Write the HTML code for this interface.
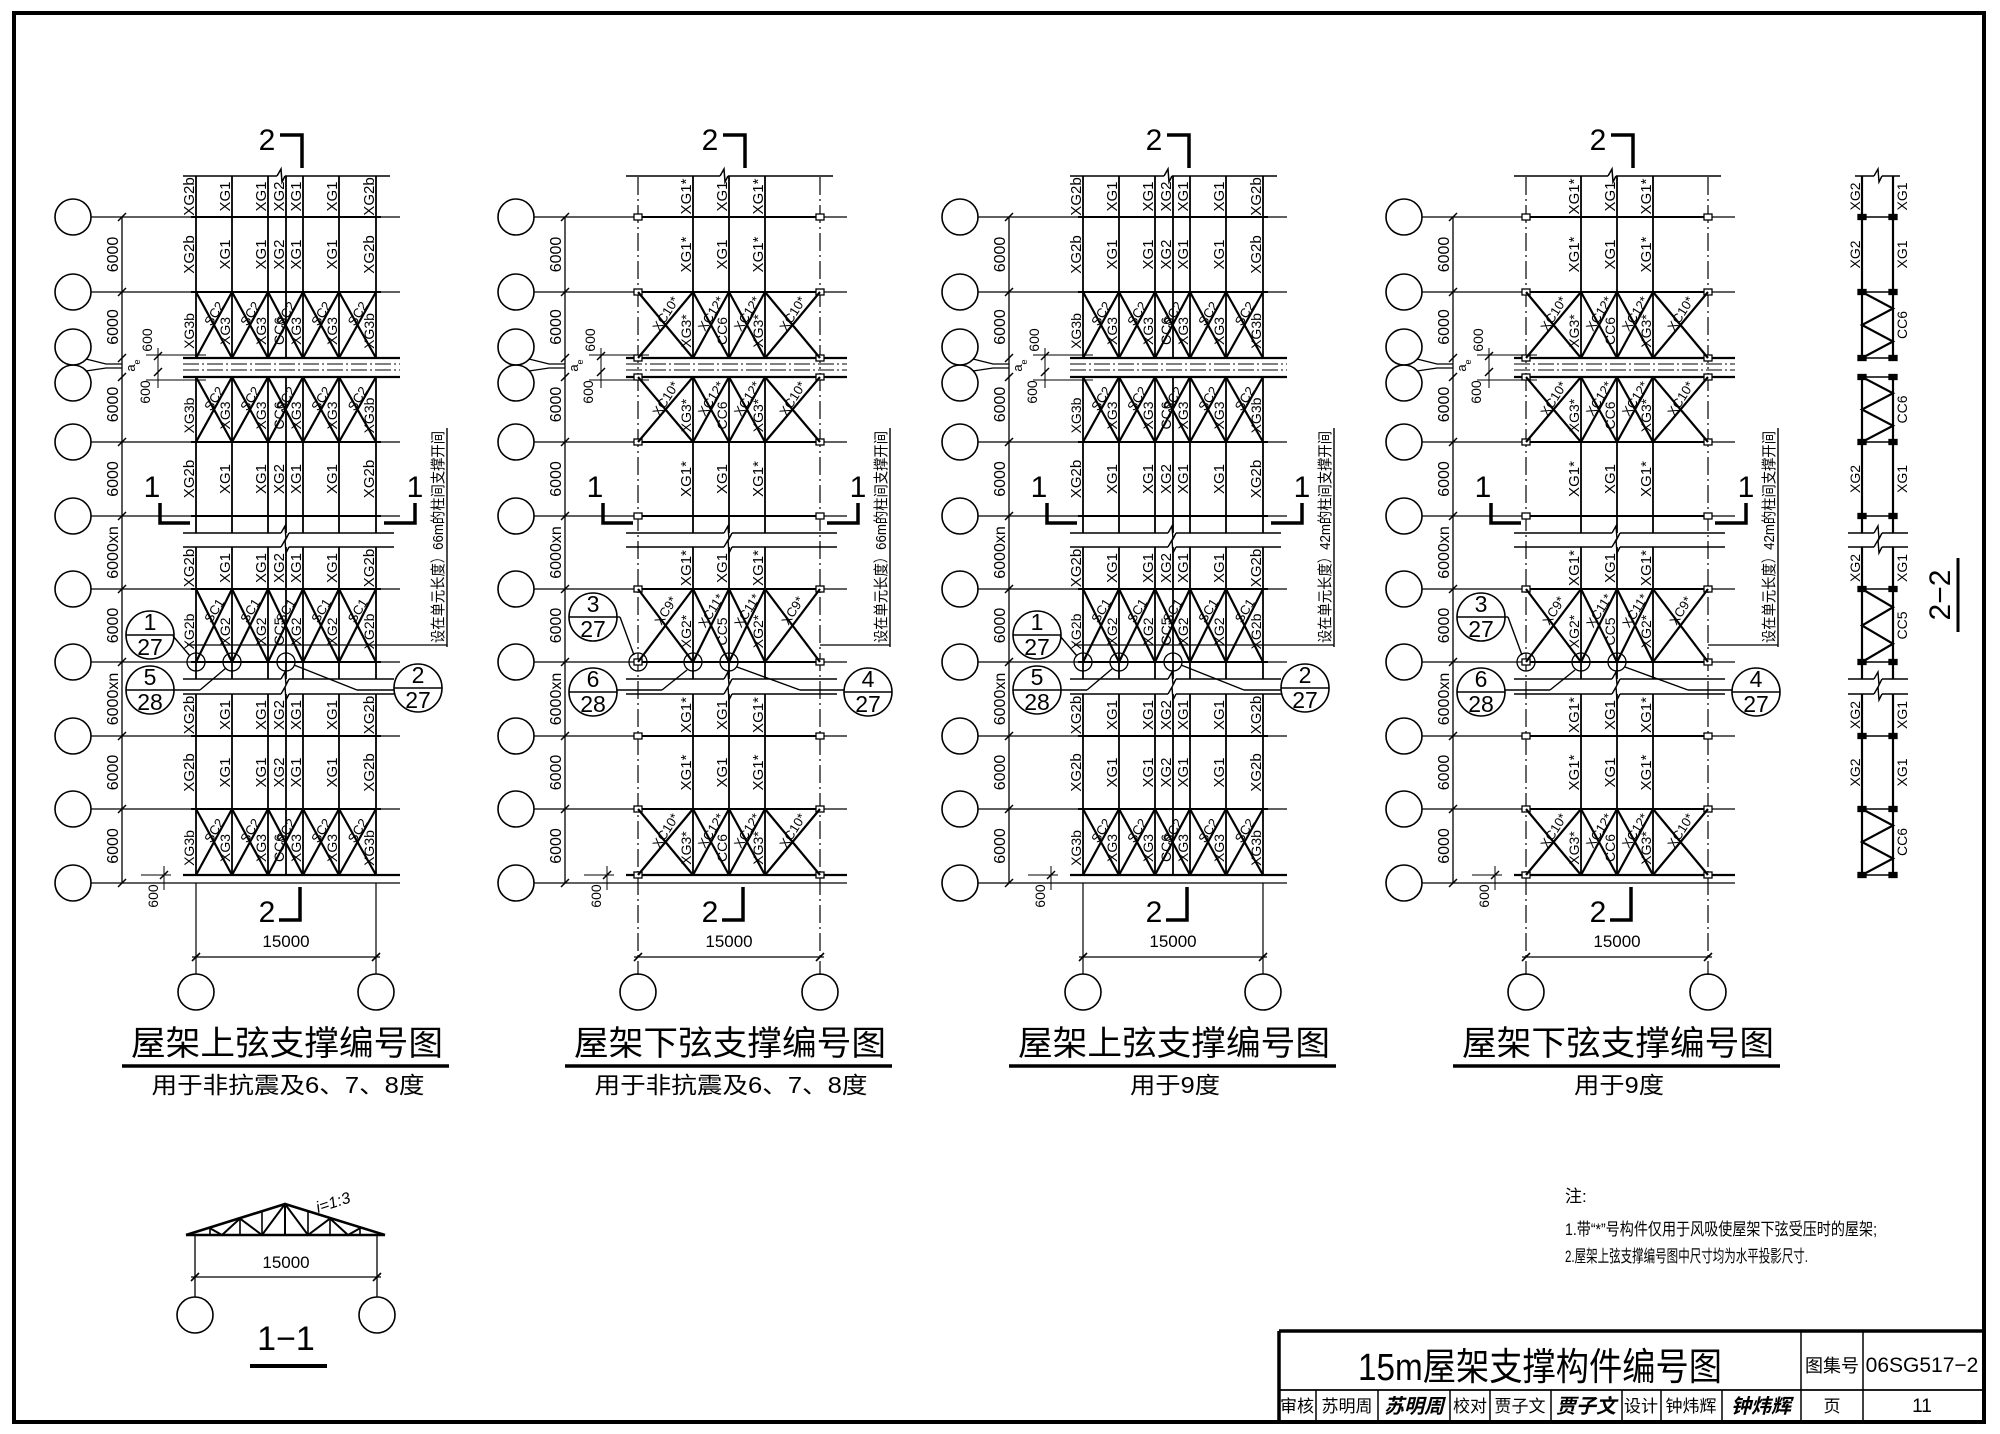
<!DOCTYPE html>
<html><head><meta charset="utf-8">
<style>
html,body{margin:0;padding:0;background:#fff;}
svg{display:block;}
line,polyline,path,rect.o{stroke:#000;fill:none;}
circle{stroke:#000;fill:none;}
text{fill:#000;stroke:none;font-family:"Liberation Sans","Noto Sans CJK SC",sans-serif;}
</style></head>
<body>
<svg id="s" xmlns="http://www.w3.org/2000/svg" width="2000" height="1434" viewBox="0 0 2000 1434">
<rect x="0" y="0" width="2000" height="1434" fill="#fff"/>
<g id="g"></g>
</svg>
<script>
let o='';
function L(x1,y1,x2,y2,w,d){o+=`<line x1="${x1}" y1="${y1}" x2="${x2}" y2="${y2}" stroke-width="${w||1.4}"${d?` stroke-dasharray="${d}"`:''}/>`;}
function P(pts,w){o+=`<polyline points="${pts}" stroke-width="${w||1.4}"/>`;}
function C(x,y,r,w){o+=`<circle cx="${x}" cy="${y}" r="${r}" stroke-width="${w||1.6}"/>`;}
function T(x,y,s,sz,rot,anc,ex){o+=`<text x="${x}" y="${y}" font-size="${sz}"${anc?` text-anchor="${anc}"`:''}${rot?` transform="rotate(${rot} ${x} ${y})"`:''} ${ex||''}>${s}</text>`;}
function R(x,y,w,h,f){o+=`<rect x="${x}" y="${y}" width="${w}" height="${h}" fill="${f||'none'}" stroke="#000" stroke-width="1.3"/>`;}
function brk(x1,x2,y,kx,w){L(x1,y,kx-3,y,w);P(`${kx-3},${y} ${kx+1},${y-7} ${kx+2},${y+6} ${kx+5},${y}`,w);L(kx+5,y,x2,y,w);}
function B(x,y,a,b){C(x,y,24,1.6);L(x-24,y,x+24,y,1.4);T(x,y-5,a,23,0,'middle');T(x,y+20,b,23,0,'middle');}

function panel(cx,low,note,title,sub,subLen){
  const rowsAll=[217,292,442,516,589,662,736,809,883];
  const rx=low?cx+118:cx+114;
  rowsAll.forEach(y=>{C(cx-213,y,18);L(cx-195,y,rx,y,1.3);});
  C(cx-213,347,18);C(cx-213,383,18);
  P(`${cx-200},359 ${cx-180},364 ${cx-164},364`,1.3);
  P(`${cx-200},371 ${cx-180},368 ${cx-164},368`,1.3);
  L(cx-164,217,cx-164,883,1.3);
  [217,292,358,377,442,516,589,662,736,809,883].forEach(y=>L(cx-168,y+4,cx-160,y-4,1.5));
  [[217,292,'6000'],[292,362,'6000'],[367,442,'6000'],[442,516,'6000'],[516,589,'6000xn'],[589,662,'6000'],[662,736,'6000xn'],[736,809,'6000'],[809,883,'6000']]
    .forEach(d=>T(cx-168,(d[0]+d[1])/2,d[2],16,-90,'middle'));
  T(cx-151,368,'a',13,-90,'middle');T(cx-146,362,'e',9,-90,'middle');
  T(cx-134,340,'600',14,-90,'middle');T(cx-136,392,'600',14,-90,'middle');
  L(cx-140,355,cx-80,355,1);L(cx-140,380,cx-80,380,1);L(cx-128,348,cx-128,388,1);
  L(cx-132,360,cx-124,352,1.5);L(cx-132,376,cx-124,368,1.5);
  T(cx-128,896,'600',14,-90,'middle');L(cx-145,875,cx-115,875,1);L(cx-122,866,cx-122,890,1);L(cx-126,879,cx-118,871,1.5);
  brk(cx-103,cx+104,176,cx-6,1.5);
  L(cx-103,875,rx,875,2.2);
  L(cx-103,883,rx,883,1,'14 3 2 3');
  [533,547,679,694].forEach(y=>brk(cx-103,cx+108,y,cx-2,1.4));
  L(cx-103,358,rx,358,2.2);L(cx-103,377,rx,377,2.2);
  L(cx-103,364,rx,364,1,'16 3 2 3');L(cx-103,370,rx,370,1,'16 3 2 3');
  [217,292,442,516,589,662,736,809].forEach(y=>L(cx-95,y,cx+95,y,2));
  const cols=low?[-91,-36,0,36,91]:[-90,-54,-18,0,17,53,90];
  const segs=[[176,358],[377,533],[547,679],[694,875]];
  cols.forEach(c=>{
    if(low&&(c==-91||c==91)){L(cx+c,177,cx+c,975,1.2,'18 4 2 4');}
    else segs.forEach(s=>L(cx+c,s[0],cx+c,s[1],1.8));
  });
  if(low){
    [217,292,358,377,442,516,589,662,736,809,875].forEach(y=>{R(cx-95,y-3,8,6,'#fff');R(cx+87,y-3,8,6,'#fff');});
  }
  const bays=[[292,358,0],[377,442,0],[589,662,1],[809,875,0]];
  const pairs=low?[[-91,-36],[-36,0],[0,36],[36,91]]:[[-90,-54],[-54,-18],[-18,17],[17,53],[53,90]];
  bays.forEach(b=>{
    pairs.forEach((p,i)=>{
      L(cx+p[0],b[0],cx+p[1],b[1],2.2);L(cx+p[0],b[1],cx+p[1],b[0],2.2);
      let m=cx+(p[0]+p[1])/2, lab;
      if(low) lab=b[2]?['XC9*','XC11*','XC11*','XC9*'][i]:['XC10*','XC12*','XC12*','XC10*'][i];
      else lab=b[2]?'SC1':'SC2';
      T(m+4,b[0]+24,lab,13,-58,'middle');
    });
  });
  const nb=[[176,217],[217,292],[442,516],[547,589],[694,736],[736,809]];
  let nl,bl,bl2;
  if(low){nl={'-36':'XG1*','0':'XG1','36':'XG1*'};bl={'-36':'XG3*','0':'CC6','36':'XG3*'};bl2={'-36':'XG2*','0':'CC5','36':'XG2*'};}
  else{nl={'-90':'XG2b','-54':'XG1','-18':'XG1','0':'XG2','17':'XG1','53':'XG1','90':'XG2b'};
       bl={'-90':'XG3b','-54':'XG3','-18':'XG3','0':'CC6','17':'XG3','53':'XG3','90':'XG3b'};
       bl2={'-90':'XG2b','-54':'XG2','-18':'XG2','0':'CC5','17':'XG2','53':'XG2','90':'XG2b'};}
  nb.forEach(b=>{for(const k in nl)T(cx+ +k-2,(b[0]+b[1])/2,nl[k],15,-90,'middle');});
  bays.forEach(b=>{const m=b[2]?bl2:bl;for(const k in m)T(cx+ +k-2,(b[0]+b[1])/2+6,m[k],14,-90,'middle');});
  T(cx-19,150,'2',30,0,'middle');P(`${cx-6},135 ${cx+16},135 ${cx+16},168`,3.5);
  T(cx-19,922,'2',30,0,'middle');P(`${cx+14},887 ${cx+14},920 ${cx-7},920`,3.5);
  T(cx-134,497,'1',30,0,'middle');P(`${cx-126},503 ${cx-126},523 ${cx-96},523`,3.5);
  T(cx+129,497,'1',30,0,'middle');P(`${cx+129},503 ${cx+129},523 ${cx+98},523`,3.5);
  T(cx+157,537,note,15,-90,'middle','textLength="212" lengthAdjust="spacingAndGlyphs"');
  L(cx+161,428,cx+161,647,1.4);
  L(low?cx+91:cx-99,645,cx+161,645,1.3);
  if(low){
    C(cx-91,662,9,1.3);C(cx-36,662,9,1.3);C(cx,662,9,1.3);
    B(cx-136,617,'3','27');B(cx-136,692,'6','28');B(cx+139,692,'4','27');
    L(cx-112,617,cx-109,617);L(cx-109,617,cx-95,655);
    L(cx-112,690,cx-67,690);L(cx-67,690,cx-42,670);
    L(cx+71,690,cx+115,690);L(cx+71,690,cx+8,667);
  } else {
    C(cx-90,662,9,1.3);C(cx-54,662,9,1.3);C(cx,662,9,1.3);
    B(cx-136,635,'1','27');B(cx-136,690,'5','28');B(cx+132,688,'2','27');
    L(cx-113,636,cx-96,656);
    L(cx-112,690,cx-86,690);L(cx-86,690,cx-60,668);
    L(cx+108,690,cx+71,690);L(cx+71,690,cx+8,665);
  }
  const bx=low?[cx-91,cx+91]:[cx-90,cx+90];
  bx.forEach(x=>{if(!low)L(x,883,x,974,1.2);C(x,992,18);});
  L(bx[0]-4,957,bx[1]+4,957,1.3);
  bx.forEach(x=>L(x-4,961,x+4,953,1.6));
  T(cx,947,'15000',17,0,'middle');
  T(cx+1,1055,title,34,0,'middle','textLength="312" lengthAdjust="spacingAndGlyphs"');
  L(cx-164,1066,cx+163,1066,3.5);
  T(cx+2,1093,sub,23,0,'middle',`textLength="${subLen}" lengthAdjust="spacingAndGlyphs"`);
}
panel(286,false,'设在单元长度）66m的柱间支撑开间','屋架上弦支撑编号图','用于非抗震及6、7、8度',273);
panel(729,true,'设在单元长度）66m的柱间支撑开间','屋架下弦支撑编号图','用于非抗震及6、7、8度',273);
panel(1173,false,'设在单元长度）42m的柱间支撑开间','屋架上弦支撑编号图','用于9度',90);
panel(1617,true,'设在单元长度）42m的柱间支撑开间','屋架下弦支撑编号图','用于9度',90);

(function(){
  const Lx=1862,Rx=1893;
  [[176,358],[377,533],[547,679],[694,875]].forEach(s=>{L(Lx,s[0],Lx,s[1],2.2);L(Rx,s[0],Rx,s[1],2.2);});
  brk(1855,1900,176,1877,1.4);
  [217,292,358,377,442,516,589,662,736,809,875].forEach(y=>{L(Lx,y,Rx,y,1.5);R(Lx-4,y-2.5,8,5,'#000');R(Rx-4,y-2.5,8,5,'#000');});
  [533,547,679,694].forEach(y=>brk(1848,1908,y,1877,1.4));
  [[292,358,'CC6'],[377,442,'CC6'],[589,662,'CC5'],[809,875,'CC6']].forEach(b=>{
    const h=b[1]-b[0];
    P(`${Lx},${b[0]} ${Rx},${b[0]+h/4} ${Lx},${b[0]+h/2} ${Rx},${b[0]+3*h/4} ${Lx},${b[1]}`,2.2);
    T(Rx+14,(b[0]+b[1])/2,b[2],14,-90,'middle');
  });
  [[176,217],[217,292],[442,516],[547,589],[694,736],[736,809]].forEach(b=>{
    T(Lx-2,(b[0]+b[1])/2,'XG2',14,-90,'middle');T(Rx+14,(b[0]+b[1])/2,'XG1',14,-90,'middle');
  });
  T(1950,595,'2−2',30,-90,'middle');
  L(1958,558,1958,632,3);
})();

(function(){
  const yb=1235,ya=1204,xa=285;
  const yt=x=>ya+31*Math.abs(x-xa)/96;
  L(186,yb,385,yb,2.4);
  P(`186,${yb} ${xa},${ya} 385,${yb}`,2.6);
  const vx=[210,240,262,308,330,360];
  vx.forEach(x=>L(x,yb,x,yt(x),1.6));
  L(xa,yb,xa,ya,2);
  P(`210,${yt(210)} 222,${yb} 240,${yt(240)} 262,${yb} 285,${ya} 308,${yb} 330,${yt(330)} 348,${yb} 360,${yt(360)}`,2);
  L(195,yb,195,1297,1.3);L(377,yb,377,1297,1.3);
  L(191,1277,381,1277,1.3);L(191,1281,199,1273,1.6);L(373,1281,381,1273,1.6);
  T(286,1268,'15000',17,0,'middle');
  T(318,1213,'i=1:3',16,-18,'start','font-style="italic"');
  C(195,1315,18);C(377,1315,18);
  T(286,1350,'1−1',34,0,'middle');
  L(250,1366,327,1366,4);
})();

T(1565,1202,'注:',17,0,'start');
T(1565,1235,'1.带“*”号构件仅用于风吸使屋架下弦受压时的屋架;',17,0,'start','textLength="312" lengthAdjust="spacingAndGlyphs"');
T(1565,1262,'2.屋架上弦支撑编号图中尺寸均为水平投影尺寸.',17,0,'start','textLength="243" lengthAdjust="spacingAndGlyphs"');

o+=`<rect x="14" y="13" width="1970" height="1409" fill="none" stroke="#000" stroke-width="4"/>`;
L(1279,1331,1984,1331,3.5);L(1279,1331,1279,1422,3.5);
L(1279,1390,1984,1390,1.8);
L(1801,1331,1801,1422,1.5);L(1863,1331,1863,1422,1.5);
[1316,1378,1450,1490,1551,1622,1661,1722].forEach(x=>L(x,1390,x,1422,1.5));
T(1540,1380,'15m屋架支撑构件编号图',38,0,'middle','textLength="364" lengthAdjust="spacingAndGlyphs"');
T(1832,1372,'图集号',18,0,'middle');
T(1922,1372,'06SG517−2',21,0,'middle');
[[1297,'审核'],[1347,'苏明周'],[1470,'校对'],[1520,'贾子文'],[1641,'设计'],[1691,'钟炜辉'],[1832,'页']].forEach(a=>T(a[0],1412,a[1],17,0,'middle'));
[[1414,'苏明周'],[1586,'贾子文'],[1761,'钟炜辉']].forEach(a=>T(a[0],1413,a[1],20,0,'middle','font-weight="bold" font-style="italic"'));
T(1922,1412,'11',19,0,'middle');
document.getElementById('g').innerHTML=o;
</script>
</body></html>
